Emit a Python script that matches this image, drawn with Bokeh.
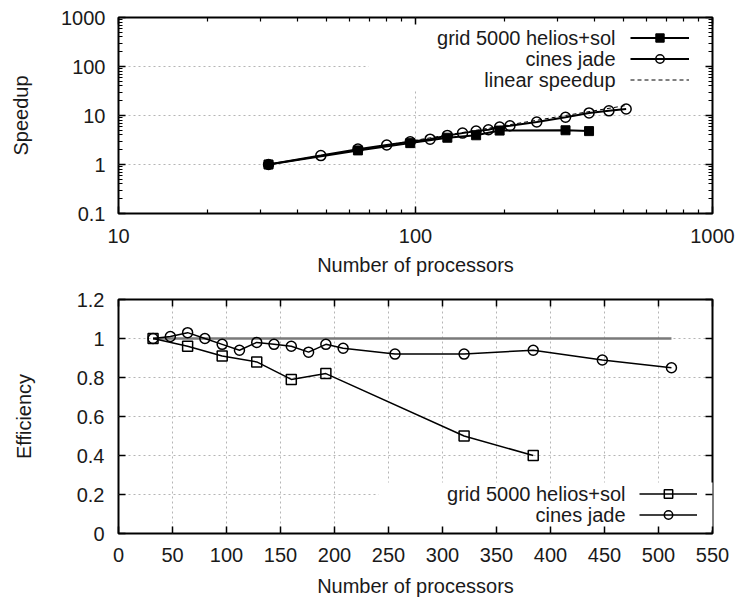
from bokeh.plotting import figure
from bokeh.layouts import column
from bokeh.models import (Range1d, FixedTicker, LogAxis, LinearAxis, CustomJSTickFormatter,
                          Legend, LegendItem, Label, BoxAnnotation)
from bokeh.embed import file_html
from bokeh.resources import INLINE

# ---------------- data ----------------
grid_procs = [32, 64, 96, 128, 160, 192, 320, 384]
grid_speedup = [1.0, 1.94, 2.73, 3.52, 3.95, 4.92, 5.0, 4.8]
grid_eff = [1.0, 0.96, 0.91, 0.88, 0.79, 0.82, 0.50, 0.40]

jade_procs = [32, 48, 64, 80, 96, 112, 128, 144, 160, 176, 192, 208, 256, 320, 384, 448, 512]
jade_speedup = [1.0, 1.52, 2.06, 2.5, 2.91, 3.29, 3.92, 4.37, 4.8, 5.12, 5.82, 6.18,
                7.36, 9.2, 11.28, 12.46, 13.6]
jade_eff = [1.0, 1.01, 1.03, 1.0, 0.97, 0.94, 0.98, 0.97, 0.96, 0.93, 0.97, 0.95,
            0.92, 0.92, 0.94, 0.89, 0.85]

linear_procs = [32, 512]
linear_speedup = [1, 16]
ideal_eff = [1, 1]

speedup_ticks = [0.1, 1, 10, 100, 1000]
proc_log_ticks = [10, 100, 1000]
eff_ticks = [0, 0.2, 0.4, 0.6, 0.8, 1.0, 1.2]
proc_lin_ticks = [0, 50, 100, 150, 200, 250, 300, 350, 400, 450, 500, 550]

legend_names = ["grid 5000 helios+sol", "cines jade", "linear speedup"]

# ---------------- style ----------------
FONT = "Liberation Sans"
FS = "20px"
TXT = "#1a1a1a"
GRID = "#b5b5b5"

fmt = CustomJSTickFormatter(code="return String(Number(tick.toPrecision(6)));")


def style_axis(ax, minor=True):
    ax.axis_line_color = None
    ax.major_tick_in = 7
    ax.major_tick_out = 0
    ax.major_tick_line_color = "black"
    ax.major_tick_line_width = 1.5
    ax.minor_tick_in = 4 if minor else 0
    ax.minor_tick_out = 0
    ax.minor_tick_line_color = "black" if minor else None
    ax.minor_tick_line_width = 1.2
    ax.major_label_text_font = FONT
    ax.major_label_text_font_size = FS
    ax.major_label_text_color = TXT
    ax.axis_label_text_font = FONT
    ax.axis_label_text_font_size = FS
    ax.axis_label_text_font_style = "normal"
    ax.axis_label_text_color = TXT


def mirror(p, cls, ticker, side, minor=True):
    ax = cls(ticker=ticker, formatter=CustomJSTickFormatter(code="return '';"))
    style_axis(ax, minor)
    ax.major_label_text_font_size = "0px"
    ax.major_label_standoff = 0
    p.add_layout(ax, side)


def style_grid(p):
    for g in (p.xgrid[0], p.ygrid[0]):
        g.grid_line_color = GRID
        g.grid_line_dash = "2 3"
        g.grid_line_width = 1


# ---------------- top: speedup ----------------
log_minor_y = [m * 10.0 ** e for e in range(-1, 3) for m in range(2, 10)]
log_minor_x = [m * 10.0 ** e for e in range(1, 3) for m in range(2, 10)]
yt1 = FixedTicker(ticks=speedup_ticks, minor_ticks=log_minor_y)
xt1 = FixedTicker(ticks=proc_log_ticks, minor_ticks=log_minor_x)

p1 = figure(width=739, height=280, x_axis_type="log", y_axis_type="log",
            x_range=Range1d(10, 1000), y_range=Range1d(0.1, 1000),
            output_backend="svg", toolbar_location=None,
            min_border_left=118, min_border_right=27, min_border_top=17, min_border_bottom=67)
p1.outline_line_color = "black"
p1.outline_line_width = 2
p1.xaxis.ticker = xt1
p1.yaxis.ticker = yt1
p1.xaxis.formatter = fmt
p1.yaxis.formatter = fmt
for ax in (p1.xaxis[0], p1.yaxis[0]):
    style_axis(ax)
p1.xaxis.major_label_standoff = 15
p1.xaxis.axis_label_standoff = 8
p1.yaxis.major_label_standoff = 13
p1.yaxis.axis_label_standoff = 26
p1.xaxis.axis_label = "Number of processors"
p1.yaxis.axis_label = "Speedup"
p1.xgrid.ticker = xt1
p1.ygrid.ticker = yt1
style_grid(p1)
mirror(p1, LogAxis, xt1, "above")
mirror(p1, LogAxis, yt1, "right")

box1 = BoxAnnotation(left=250, right=591, bottom=123, top=193,
                     left_units="screen", right_units="screen",
                     bottom_units="screen", top_units="screen",
                     fill_color="white", fill_alpha=1, line_color=None, level="underlay")
p1.add_layout(box1)

lin = p1.line(linear_procs, linear_speedup, line_color="black", line_width=1, line_dash="4 3")
gl1 = p1.line(grid_procs, grid_speedup, line_color="black", line_width=2)
gs1 = p1.scatter(grid_procs, grid_speedup, marker="square", size=9,
                 fill_color="black", line_color="black")
jl1 = p1.line(jade_procs, jade_speedup, line_color="black", line_width=2)
js1 = p1.scatter(jade_procs, jade_speedup, marker="circle", size=10,
                 fill_color=None, line_color="black", line_width=1.5)

leg1 = Legend(items=[LegendItem(label=" ", renderers=[gl1, gs1]),
                     LegendItem(label=" ", renderers=[jl1, js1]),
                     LegendItem(label=" ", renderers=[lin])],
              location=(512, 123), glyph_width=59, glyph_height=21, spacing=0,
              padding=0, margin=0, label_width=0, label_height=0, label_standoff=0,
              label_text_font_size="1px", border_line_color=None,
              background_fill_alpha=0)
p1.add_layout(leg1)
for i, name in enumerate(legend_names):
    p1.add_layout(Label(x=497, y=175.5 - 21 * i, x_units="screen", y_units="screen",
                        text=name, text_align="right", text_baseline="middle",
                        text_font=FONT, text_font_size=FS, text_color=TXT))

# ---------------- bottom: efficiency ----------------
yt2 = FixedTicker(ticks=eff_ticks, minor_ticks=[])
xt2 = FixedTicker(ticks=proc_lin_ticks, minor_ticks=[])

p2 = figure(width=739, height=320, x_range=Range1d(0, 550), y_range=Range1d(0, 1.2),
            output_backend="svg", toolbar_location=None,
            min_border_left=108, min_border_right=26, min_border_top=19, min_border_bottom=67)
p2.outline_line_color = "black"
p2.outline_line_width = 2
p2.xaxis.ticker = xt2
p2.yaxis.ticker = yt2
p2.xaxis.formatter = fmt
p2.yaxis.formatter = fmt
for ax in (p2.xaxis[0], p2.yaxis[0]):
    style_axis(ax, minor=False)
p2.xaxis.major_label_standoff = 14
p2.xaxis.axis_label_standoff = 10
p2.yaxis.major_label_standoff = 14
p2.yaxis.axis_label_standoff = 39
p2.xaxis.axis_label = "Number of processors"
p2.yaxis.axis_label = "Efficiency"
p2.xgrid.ticker = xt2
p2.ygrid.ticker = yt2
style_grid(p2)
mirror(p2, LinearAxis, xt2, "above", minor=False)
mirror(p2, LinearAxis, yt2, "right", minor=False)

box2 = BoxAnnotation(left=260, right=602, bottom=3, top=51,
                     left_units="screen", right_units="screen",
                     bottom_units="screen", top_units="screen",
                     fill_color="white", fill_alpha=1, line_color=None, level="underlay")
p2.add_layout(box2)

p2.line(linear_procs, ideal_eff, line_color="#7a7a7a", line_width=2.5)
gl2 = p2.line(grid_procs, grid_eff, line_color="black", line_width=1.5)
gs2 = p2.scatter(grid_procs, grid_eff, marker="square", size=10,
                 fill_color=None, line_color="black", line_width=1.5)
jl2 = p2.line(jade_procs, jade_eff, line_color="black", line_width=1.5)
js2 = p2.scatter(jade_procs, jade_eff, marker="circle", size=10,
                 fill_color=None, line_color="black", line_width=1.5)

leg2 = Legend(items=[LegendItem(label=" ", renderers=[gl2, gs2]),
                     LegendItem(label=" ", renderers=[jl2, js2])],
              location=(521, 8.5), glyph_width=58, glyph_height=21, spacing=0,
              padding=0, margin=0, label_width=0, label_height=0, label_standoff=0,
              label_text_font_size="1px", border_line_color=None,
              background_fill_alpha=0)
p2.add_layout(leg2)
for i, name in enumerate(legend_names[:2]):
    p2.add_layout(Label(x=507, y=40 - 21 * i, x_units="screen", y_units="screen",
                        text=name, text_align="right", text_baseline="middle",
                        text_font=FONT, text_font_size=FS, text_color=TXT))

layout = column(p1, p2, spacing=0)
open("out.html", "w").write(file_html(layout, INLINE))
